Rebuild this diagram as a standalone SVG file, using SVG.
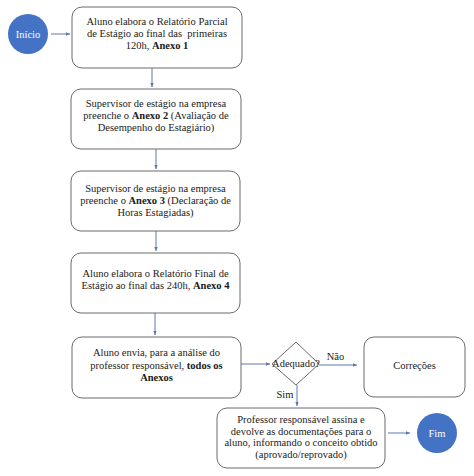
<svg xmlns="http://www.w3.org/2000/svg" width="474" height="476" viewBox="0 0 474 476">
<style>
.box{fill:#fff;stroke:#6b6b6b;stroke-width:1}
.t{font-family:"Liberation Serif","DejaVu Serif",serif;font-size:10.5px;fill:#1a1a1a;text-anchor:middle}
.b{font-weight:bold}
.c{fill:#4472C4}
.ct{font-family:"Liberation Serif","DejaVu Serif",serif;font-size:10.5px;fill:#fff;text-anchor:middle}
.ln{stroke:#5a7ab0;stroke-width:1;fill:none}
</style>
<defs>
<marker id="ah" markerWidth="5" markerHeight="5" refX="4" refY="2.5" orient="auto" markerUnits="userSpaceOnUse">
<path d="M0,0.8 L4,2.5 L0,4.2 Z" fill="#5a7ab0"/>
</marker>
</defs>
<rect width="474" height="476" fill="#fff"/>
<g id="connectors">
<line class="ln" x1="51" y1="34" x2="70" y2="34" marker-end="url(#ah)"/>
<line class="ln" x1="152" y1="68" x2="152" y2="87" marker-end="url(#ah)"/>
<line class="ln" x1="156" y1="149" x2="156" y2="169" marker-end="url(#ah)"/>
<line class="ln" x1="156" y1="231" x2="156" y2="251" marker-end="url(#ah)"/>
<line class="ln" x1="155" y1="313" x2="155" y2="335" marker-end="url(#ah)"/>
<line class="ln" x1="241" y1="364" x2="270" y2="364" marker-end="url(#ah)"/>
<line class="ln" x1="319" y1="365" x2="357" y2="365" marker-end="url(#ah)"/>
<line class="ln" x1="297" y1="385" x2="297" y2="406" marker-end="url(#ah)"/>
<line class="ln" x1="388" y1="433" x2="410" y2="433" marker-end="url(#ah)"/>
<text class="t" x="335.5" y="360">Não</text>
<text class="t" x="285" y="398">Sim</text>
</g>
<g id="inicio">
<circle class="c" cx="28" cy="34" r="20"/>
<text class="ct" x="28" y="37.5">Início</text>
</g>
<g id="n1">
<rect class="box" x="72" y="7" width="170" height="61" rx="10"/>
<text class="t" x="157" y="25">Aluno elabora o Relatório Parcial</text>
<text class="t" x="157" y="37">de Estágio ao final das&#160; primeiras</text>
<text class="t" x="157" y="49">120h, <tspan class="b">Anexo 1</tspan></text>
</g>
<g id="n2">
<rect class="box" x="71" y="89" width="170" height="60" rx="10"/>
<text class="t" x="156" y="107">Supervisor de estágio na empresa</text>
<text class="t" x="156" y="119">preenche o <tspan class="b">Anexo 2</tspan> (Avaliação de</text>
<text class="t" x="156" y="131">Desempenho do Estagiário)</text>
</g>
<g id="n3">
<rect class="box" x="71" y="171" width="169" height="60" rx="10"/>
<text class="t" x="155.5" y="192">Supervisor de estágio na empresa</text>
<text class="t" x="155.5" y="204">preenche o <tspan class="b">Anexo 3</tspan> (Declaração de</text>
<text class="t" x="155.5" y="216">Horas Estagiadas)</text>
</g>
<g id="n4">
<rect class="box" x="71" y="253" width="169" height="60" rx="10"/>
<text class="t" x="155.5" y="277">Aluno elabora o Relatório Final de</text>
<text class="t" x="155.5" y="289">Estágio ao final das 240h, <tspan class="b">Anexo 4</tspan></text>
</g>
<g id="n5">
<rect class="box" x="72" y="337" width="169" height="61" rx="10"/>
<text class="t" x="156.5" y="356">Aluno envia, para a análise do</text>
<text class="t" x="156.5" y="369">professor responsável, <tspan class="b">todos os</tspan></text>
<text class="t" x="156.5" y="381" font-weight="bold">Anexos</text>
</g>
<g id="decisao">
<polygon points="296,342 319,364 296,385 272,364" fill="#fff" stroke="#6b6b6b" stroke-width="1"/>
<text class="t" x="296" y="367" font-size="8.5">Adequado?</text>
</g>
<g id="correcoes">
<rect class="box" x="364" y="337" width="101" height="60" rx="10"/>
<text class="t" x="414.5" y="369">Correções</text>
</g>
<g id="n6">
<rect class="box" x="217" y="408" width="168" height="60" rx="10"/>
<text class="t" x="301" y="423">Professor responsável assina e</text>
<text class="t" x="301" y="434.5">devolve as documentações para o</text>
<text class="t" x="301" y="446">aluno, informando o conceito obtido</text>
<text class="t" x="301" y="457.5">(aprovado/reprovado)</text>
</g>
<g id="fim">
<circle class="c" cx="437" cy="433" r="20"/>
<text class="ct" x="437" y="436.5">Fim</text>
</g>
</svg>
